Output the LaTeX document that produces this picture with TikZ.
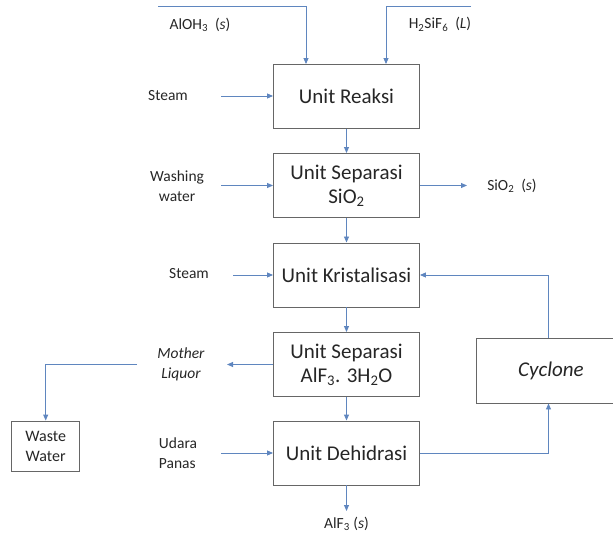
\documentclass[tikz,border=0pt]{standalone}
\usepackage{fontspec}
\setmainfont{Carlito}
\usetikzlibrary{arrows.meta}
\definecolor{flow}{HTML}{5F86BF}
\definecolor{boxline}{HTML}{666666}
\definecolor{txt}{HTML}{262626}
\begin{document}
\begin{tikzpicture}[x=1pt,y=-1pt,
  unitbox/.style={draw=boxline,line width=0.9pt,minimum width=146pt,minimum height=64pt,inner sep=0pt,align=center,font=\fontsize{21}{24}\selectfont,text=txt},
  lbl/.style={font=\fontsize{15.5}{20}\selectfont,text=txt,inner sep=0pt,align=center},
  flowline/.style={draw=flow,line width=0.9pt},
  flowarrow/.style={flowline,-{Triangle[length=6pt,width=5pt]}}]
\useasboundingbox (0,0) rectangle (613,534);
% main units
\node[unitbox] (reaksi) at (346.5,96.5) {Unit Reaksi};
\node[unitbox] (sep1) at (346.5,185.5) {Unit Separasi\\SiO\textsubscript{2}};
\node[unitbox] (krist) at (346.5,275) {Unit Kristalisasi};
\node[unitbox] (sep2) at (346.5,364.5) {Unit Separasi\\AlF\textsubscript{3}. 3H\textsubscript{2}O};
\node[unitbox] (dehid) at (346.5,453) {Unit Dehidrasi};
\node[unitbox,minimum width=160pt,minimum height=65pt,font=\fontsize{21}{24}\selectfont\itshape] (cyc) at (556,370.5) {\hspace*{-10pt}Cyclone};
\node[unitbox,minimum width=68pt,minimum height=50pt,font=\fontsize{16}{20}\selectfont] (waste) at (45.7,446) {Waste\\Water};
% labels
\node[lbl] (aloh) at (200,24.5) {AlOH\textsubscript{3}\ \ (\textit{s})};
\node[lbl] (h2sif) at (440,24.5) {H\textsubscript{2}SiF\textsubscript{6}\ \ (\textit{L})};
\node[lbl] (steam1) at (168,96) {Steam};
\node[lbl] (wash) at (177,186) {Washing\\water};
\node[lbl] (sio2) at (512,186) {SiO\textsubscript{2}\ \ (\textit{s})};
\node[lbl] (steam2) at (189,273.5) {Steam};
\node[lbl,font=\fontsize{15.5}{20}\selectfont\itshape] (mother) at (181,364.5) {Mother\\Liquor};
\node[lbl,align=left] (udara) at (178,453.5) {Udara\\Panas};
\node[lbl] (alf3) at (346.5,524) {AlF\textsubscript{3} (\textit{s})};
% coordinates
\coordinate (a0) at (158,6.8);
\coordinate (a1) at (306,6.8);
\coordinate (h0) at (471,6.8);
\coordinate (h1) at (386,6.8);
\coordinate (s1) at (221,96);
\coordinate (w1) at (221,185.5);
\coordinate (so) at (467,185.5);
\coordinate (s2) at (233,275);
\coordinate (ml) at (227,364.5);
\coordinate (m0) at (137,364.5);
\coordinate (u1) at (221,453);
\coordinate (af) at (346.5,511);
% connectors
\draw[flowarrow] (a0) -- (a1) -- (a1 |- reaksi.north);
\draw[flowarrow] (h0) -- (h1) -- (h1 |- reaksi.north);
\draw[flowarrow] (s1) -- (s1 -| reaksi.west);
\draw[flowarrow] (reaksi) -- (sep1);
\draw[flowarrow] (w1) -- (w1 -| sep1.west);
\draw[flowarrow] (sep1.east) -- (so);
\draw[flowarrow] (sep1) -- (krist);
\draw[flowarrow] (s2) -- (s2 -| krist.west);
\draw[flowarrow] (krist) -- (sep2);
\draw[flowarrow] (sep2.west) -- (ml);
\draw[flowarrow] (m0) -| (waste.north);
\draw[flowarrow] (sep2) -- (dehid);
\draw[flowarrow] (u1) -- (u1 -| dehid.west);
\draw[flowarrow] (dehid.south) -- (af);
\draw[flowarrow] (dehid.east) -| (cyc.south -| 548.5,0);
\draw[flowarrow] (cyc.north -| 548.5,0) |- (krist.east);
\end{tikzpicture}
\end{document}
